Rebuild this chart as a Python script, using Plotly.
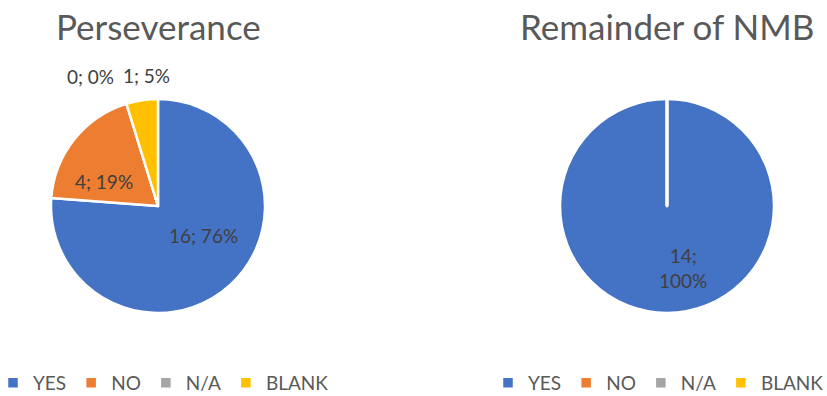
import plotly.graph_objects as go

# Survey responses per group
categories = ["YES", "NO", "N/A", "BLANK"]
perseverance = [16, 4, 0, 1]
remainder_nmb = [14, 0, 0, 0]
colors = ["#4472C4", "#ED7D31", "#A5A5A5", "#FFC000"]

W, H = 827, 396
FONT = "Lato"
TEXT_GRAY = "#595959"
LABEL_GRAY = "#404040"

# pie geometry in pixels (center x, center y, radius)
left_pie = (158, 206, 107)
right_pie = (667, 206, 107)


def domain(cx, cy, r):
    return dict(x=[(cx - r) / W, (cx + r) / W], y=[1 - (cy + r) / H, 1 - (cy - r) / H])


def label(values, i):
    total = sum(values)
    return f"{values[i]}; {round(100 * values[i] / total)}%"


fig = go.Figure()
fig.add_trace(go.Pie(
    labels=categories, values=perseverance, sort=False, direction="clockwise", rotation=0,
    marker=dict(colors=colors, line=dict(color="white", width=2.5)),
    textinfo="none", hoverinfo="label+value+percent",
    domain=domain(*left_pie), legend="legend", showlegend=True,
))
# pie legends are keyed by label, so the second chart gets its own label keys
fig.add_trace(go.Pie(
    labels=[c + "\u200b" for c in categories], values=remainder_nmb, sort=False,
    direction="clockwise", rotation=0,
    marker=dict(colors=colors, line=dict(color="white", width=2.5)),
    textinfo="none", hoverinfo="label+value+percent",
    domain=domain(*right_pie), legend="legend2", showlegend=True,
))

annotations = []
label_font = dict(family=FONT, size=19, color=LABEL_GRAY)
# data labels for the left pie (pixel positions of label centers)
left_label_pos = [(203, 236), (104, 182), (90, 76), (146, 75)]
for i, (px, py) in enumerate(left_label_pos):
    annotations.append(dict(x=px / W, y=1 - py / H, xref="paper", yref="paper",
                            xanchor="center", yanchor="middle",
                            text=label(perseverance, i), showarrow=False, font=label_font))
# data label for the right pie, wrapped on two lines
annotations.append(dict(x=683 / W, y=1 - 268 / H, xref="paper", yref="paper",
                        xanchor="center", yanchor="middle",
                        text=label(remainder_nmb, 0).replace(" ", "<br>"), showarrow=False,
                        font=label_font, align="center"))
# titles
for title, (cx, cy, r) in [("Perseverance", left_pie), ("Remainder of NMB", right_pie)]:
    annotations.append(dict(x=cx / W, y=1 - 26 / H, xref="paper", yref="paper",
                            xanchor="center", yanchor="middle",
                            text=title, showarrow=False,
                            font=dict(family=FONT, size=35, color=TEXT_GRAY)))

# slice border from the center to the top of the full circle
cx, cy, r = right_pie
shapes = [dict(type="line", xref="paper", yref="paper",
               x0=cx / W, x1=cx / W, y0=1 - cy / H, y1=1 - (cy - r) / H,
               line=dict(color="white", width=3))]

legend_style = dict(orientation="h", yanchor="middle", xanchor="left",
                    font=dict(family=FONT, size=19, color=TEXT_GRAY),
                    bgcolor="rgba(0,0,0,0)", itemclick=False, itemdoubleclick=False)

fig.update_layout(
    width=W, height=H,
    margin=dict(l=0, r=0, t=0, b=0, autoexpand=False),
    paper_bgcolor="white", plot_bgcolor="white",
    font=dict(family=FONT, color=TEXT_GRAY),
    legend=dict(x=-7 / W, y=1 - 383 / H, **legend_style),
    legend2=dict(x=488 / W, y=1 - 383 / H, **legend_style),
    annotations=annotations,
    shapes=shapes,
)

fig.write_html("out.html")
